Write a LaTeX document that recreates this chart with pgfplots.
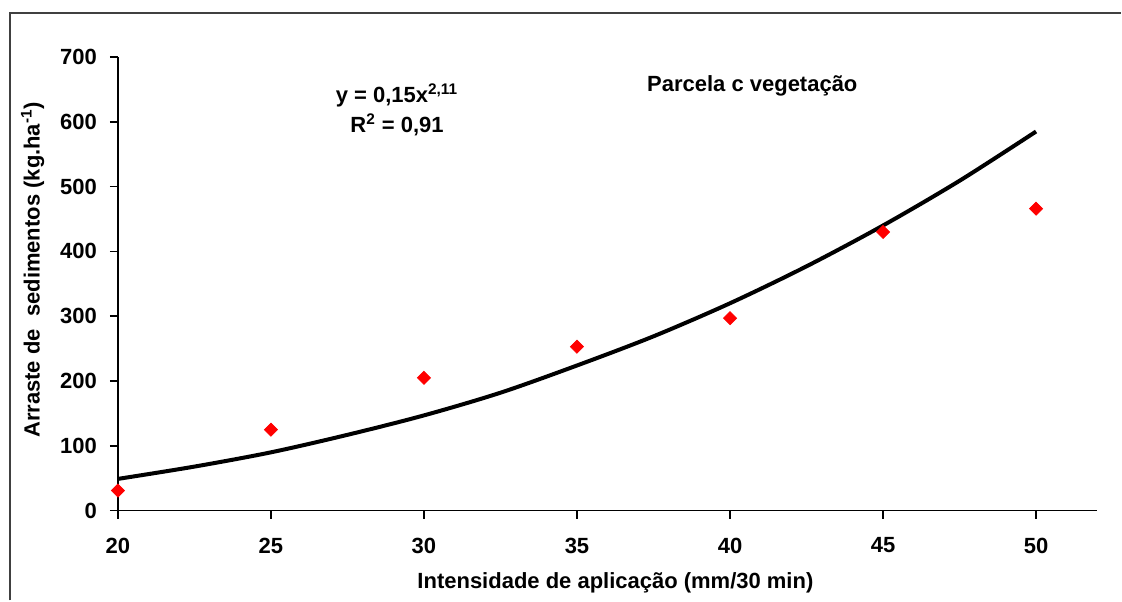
\documentclass[border=0pt]{standalone}
\usepackage{fontspec}
\setmainfont{Liberation Sans}
\usepackage{pgfplots}
\pgfplotsset{compat=1.18}

\begin{document}
\begin{tikzpicture}
\begin{axis}[
    scale only axis,
    width=490pt,
    height=227pt,
    xmin=20, xmax=52,
    ymin=0, ymax=700,
    axis x line=bottom,
    axis y line=left,
    axis line style={-, line width=0.75pt},
    xtick={20,25,...,50},
    ytick={0,100,...,700},
    tick align=outside,
    major tick length=4pt,
    tick style={line width=0.75pt, black},
    /pgf/number format/assume math mode=true,
    tick label style={font=\fontsize{11}{13}\selectfont\bfseries},
    xticklabel style={yshift=-6pt},
    yticklabel style={xshift=-3pt},
    xlabel={Intensidade de aplicação (mm/30 min)},
    ylabel={Arraste de\ \ sedimentos (kg.ha\textsuperscript{-1})},
    xlabel style={font=\fontsize{11}{13}\selectfont\bfseries, at={(axis description cs:0.508,-0.159)}, anchor=center},
    ylabel style={font=\fontsize{11}{13}\selectfont\bfseries, at={(axis description cs:-0.087,0.531)}, anchor=center},
    clip=false,
]

% curva ajustada
\addplot[black, line width=2pt, smooth] coordinates {
    (20,49) (22.5,68) (25,90) (27.5,117) (30,147) (32.5,182) (35,224)
    (37.5,269) (40,320) (42.5,377) (45,440) (47.5,509) (50,585)
};

% dados observados
\addplot[only marks, mark=square*, mark size=2.3pt, color=red,
    mark options={rotate=45, fill=red, draw=red}] coordinates {
    (20,31) (25,125) (30,205) (35,253) (40,297) (45,430) (50,466)
};

\node[font=\fontsize{11}{13}\selectfont\bfseries, anchor=base] at (axis cs:29.12,630)
    {y = 0,15x\textsuperscript{2,11}};
\node[font=\fontsize{11}{13}\selectfont\bfseries, anchor=base] at (axis cs:29.12,584)
    {R\textsuperscript{2} = 0,91};
\node[font=\fontsize{11}{13}\selectfont\bfseries, anchor=base] at (axis cs:40.73,646)
    {Parcela c vegetação};

% moldura
\draw[line width=0.75pt, black!75] (rel axis cs:-0.1102,-0.198) -- (rel axis cs:-0.1102,1.097) -- (rel axis cs:1.0245,1.097);
\path (rel axis cs:-0.1204,-0.198) rectangle (rel axis cs:1.0245,1.1256);
\end{axis}
\end{tikzpicture}
\end{document}
